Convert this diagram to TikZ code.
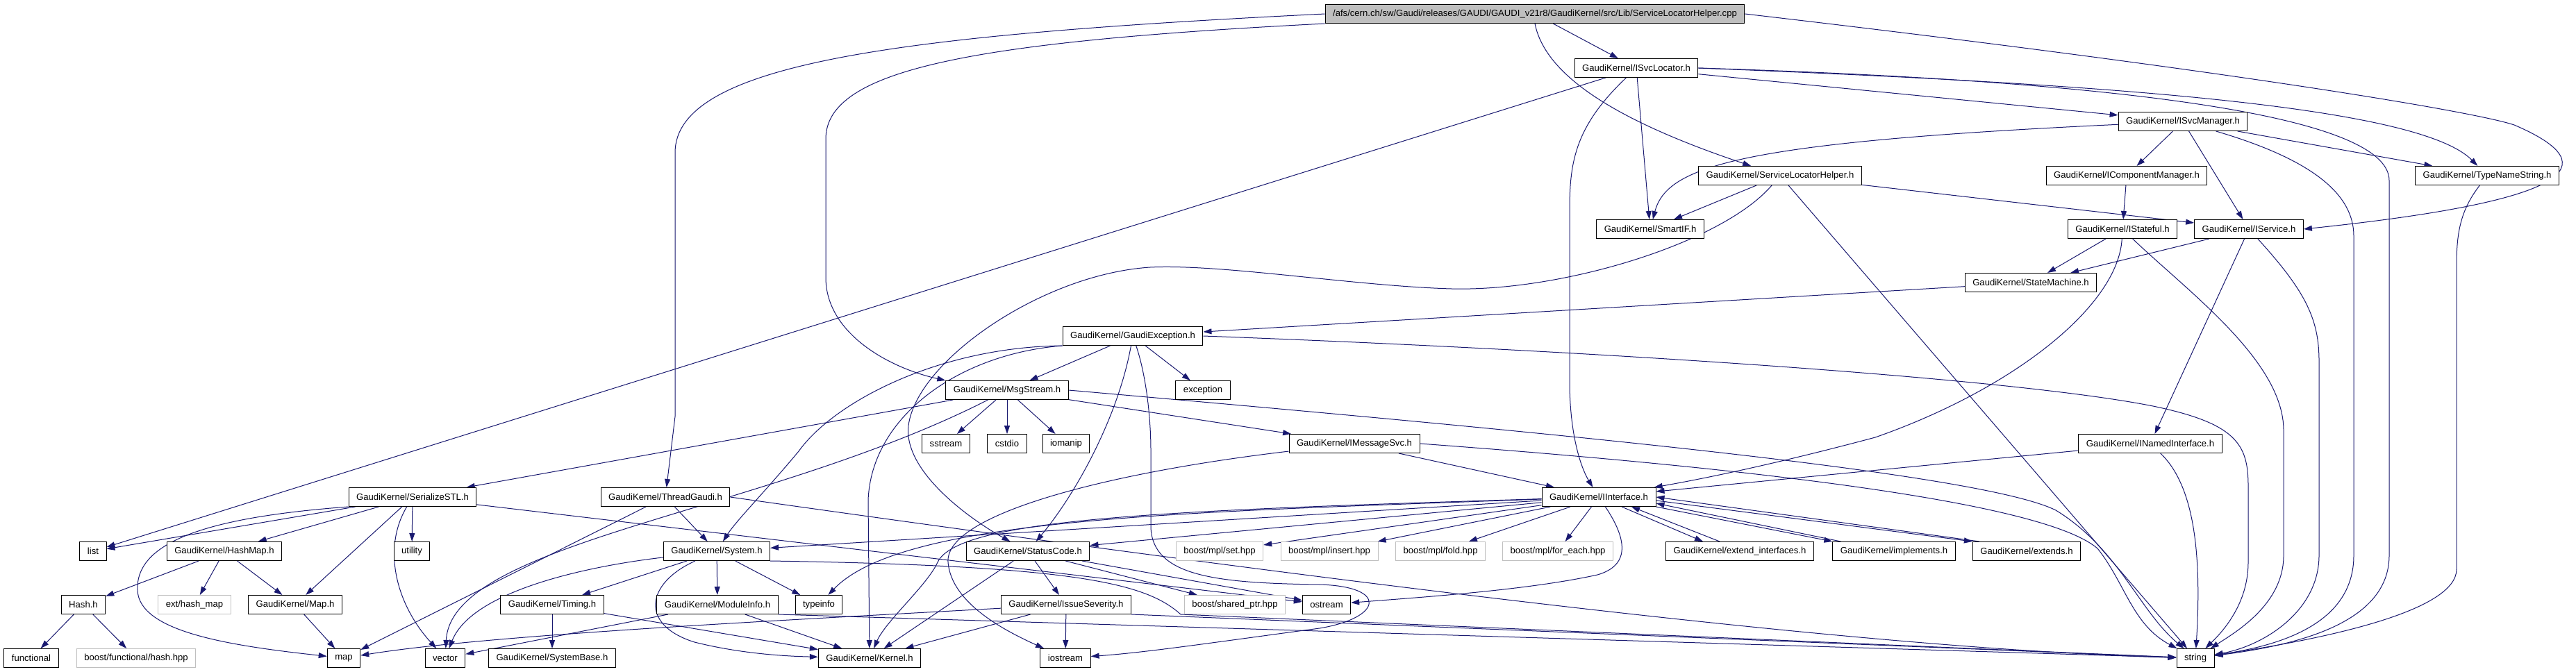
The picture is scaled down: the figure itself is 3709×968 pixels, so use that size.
\documentclass[tikz,border=0pt]{standalone}
\usepackage{fontspec}
\setmainfont{Liberation Sans}
\usepackage{tikz}
\usetikzlibrary{arrows.meta, backgrounds}
\definecolor{edgeblue}{RGB}{25, 25, 112}
\definecolor{extgray}{RGB}{191, 191, 191}

\begin{document}
\begin{tikzpicture}[
    x=1pt, y=-1pt,
    hdr/.style  = {rectangle, draw=black, line width=1pt, fill=white,
                   inner xsep=11pt, inner ysep=0pt, minimum height=27pt,
                   font=\fontsize{13.1}{15}\selectfont},
    ext/.style  = {hdr, draw=extgray},
    src/.style  = {hdr, fill=extgray},
    dep/.style  = {-{Triangle[length=12pt, width=8pt]}, line width=1pt, color=edgeblue},
  ]
  \useasboundingbox (0,0) rectangle (3709,968);

  %% Source file and headers, row by row
  \node[src] (root)       at (2210,20)  {/afs/cern.ch/sw/Gaudi/releases/GAUDI/GAUDI\_v21r8/GaudiKernel/src/Lib/ServiceLocatorHelper.cpp};
  \node[hdr] (isvcloc)    at (2356,98)  {GaudiKernel/ISvcLocator.h};
  \node[hdr] (isvcman)    at (3143,175) {GaudiKernel/ISvcManager.h};
  \node[hdr] (slh)        at (2563,253) {GaudiKernel/ServiceLocatorHelper.h};
  \node[hdr] (icompman)   at (3062,253) {GaudiKernel/IComponentManager.h};
  \node[hdr] (typename)   at (3581,253) {GaudiKernel/TypeNameString.h};
  \node[hdr] (smartif)    at (2376,330) {GaudiKernel/SmartIF.h};
  \node[hdr] (istateful)  at (3056,330) {GaudiKernel/IStateful.h};
  \node[hdr] (iservice)   at (3238,330) {GaudiKernel/IService.h};
  \node[hdr] (statemach)  at (2924,407) {GaudiKernel/StateMachine.h};
  \node[hdr] (gexc)       at (1631,484) {GaudiKernel/GaudiException.h};
  \node[hdr] (msgstream)  at (1450,562) {GaudiKernel/MsgStream.h};
  \node[hdr] (exception)  at (1732,562) {exception};
  \node[hdr] (sstream)    at (1362,639) {sstream};
  \node[hdr] (cstdio)     at (1450,639) {cstdio};
  \node[hdr] (iomanip)    at (1535,639) {iomanip};
  \node[hdr] (imsgsvc)    at (1950,639) {GaudiKernel/IMessageSvc.h};
  \node[hdr] (inamed)     at (3096,639) {GaudiKernel/INamedInterface.h};
  \node[hdr] (serialize)  at (594,716)  {GaudiKernel/SerializeSTL.h};
  \node[hdr] (threadg)    at (958,716)  {GaudiKernel/ThreadGaudi.h};
  \node[hdr] (iinterface) at (2302,716) {GaudiKernel/IInterface.h};

  \node[hdr] (list)       at (134,794)  {list};
  \node[hdr] (hashmap)    at (323,794)  {GaudiKernel/HashMap.h};
  \node[hdr] (utility)    at (593,794)  {utility};
  \node[hdr] (system)     at (1032,794) {GaudiKernel/System.h};
  \node[hdr] (statuscode) at (1480,794) {GaudiKernel/StatusCode.h};
  \node[ext] (mplset)     at (1756,794) {boost/mpl/set.hpp};
  \node[ext] (mplinsert)  at (1914,794) {boost/mpl/insert.hpp};
  \node[ext] (mplfold)    at (2074,794) {boost/mpl/fold.hpp};
  \node[ext] (mplforeach) at (2243,794) {boost/mpl/for\_each.hpp};
  \node[hdr] (extendif)   at (2505,794) {GaudiKernel/extend\_interfaces.h};
  \node[hdr] (implements) at (2727,794) {GaudiKernel/implements.h};
  \node[hdr] (extends)    at (2918,794) {GaudiKernel/extends.h};

  \node[hdr] (hash)       at (120,871)  {Hash.h};
  \node[ext] (exthashmap) at (280,871)  {ext/hash\_map};
  \node[hdr] (mapH)       at (425,871)  {GaudiKernel/Map.h};
  \node[hdr] (timing)     at (795,871)  {GaudiKernel/Timing.h};
  \node[hdr] (moduleinfo) at (1033,871) {GaudiKernel/ModuleInfo.h};
  \node[hdr] (typeinfo)   at (1179,871) {typeinfo};
  \node[hdr] (issuesev)   at (1535,871) {GaudiKernel/IssueSeverity.h};
  \node[ext] (sharedptr)  at (1778,871) {boost/shared\_ptr.hpp};
  \node[hdr] (ostream)    at (1910,871) {ostream};

  \node[hdr] (functional) at (45,948)   {functional};
  \node[ext] (boosthash)  at (196,948)  {boost/functional/hash.hpp};
  \node[hdr] (map)        at (495,948)  {map};
  \node[hdr] (vector)     at (641,948)  {vector};
  \node[hdr] (systembase) at (795,948)  {GaudiKernel/SystemBase.h};
  \node[hdr] (kernel)     at (1252,948) {GaudiKernel/Kernel.h};
  \node[hdr] (iostream)   at (1534,948) {iostream};
  \node[hdr] (string)     at (3161,948) {string};

  \begin{scope}[on background layer]
  \fill[white] (0,0) rectangle (3709,968);

  %% From the source file
  \draw[dep] (root) -- (isvcloc);
  \draw[dep] (root.south) .. controls (2225,110) and (2330,175) .. (slh);
  \draw[dep] (root.west) .. controls (1300,50) and (972,90) .. (972,220) -- (972,600) -- (threadg);
  \draw[dep] (root.south west) .. controls (1400,60) and (1189,100) .. (1189,200) -- (1189,400)
             .. controls (1189,480) and (1280,530) .. (msgstream.north west);
  \draw[dep] (root.east) .. controls (3200,100) and (3560,160) .. (3620,180)
             .. controls (3760,240) and (3700,290) .. (iservice.east);

  %% ISvcLocator / ISvcManager
  \draw[dep] (isvcloc) -- (isvcman);
  \draw[dep] (isvcloc.east) .. controls (3000,120) and (3480,150) .. (typename);
  \draw[dep] (isvcloc.east) .. controls (3000,115) and (3440,160) .. (3440,260) -- (3440,800)
             .. controls (3440,900) and (3300,930) .. (string);
  \draw[dep] (isvcloc) -- (smartif);
  \draw[dep] (isvcloc) .. controls (2270,180) and (2260,230) .. (2260,300) -- (2260,560)
             .. controls (2262,640) and (2280,680) .. (iinterface);
  \draw[dep] (isvcloc) -- (list);
  \draw[dep] (isvcman) -- (icompman);
  \draw[dep] (isvcman) -- (iservice);
  \draw[dep] (isvcman) -- (typename);
  \draw[dep] (isvcman) .. controls (2500,205) and (2400,240) .. (smartif);
  \draw[dep] (isvcman) .. controls (3330,230) and (3389,280) .. (3389,340) -- (3389,800)
             .. controls (3389,900) and (3280,930) .. (string);

  %% ServiceLocatorHelper.h
  \draw[dep] (slh) -- (smartif);
  \draw[dep] (slh) -- (iservice);
  \draw[dep] (slh) -- (string);
  \draw[dep] (slh) .. controls (2480,350) and (2250,420) .. (2090,416)
             .. controls (1950,412) and (1760,380) .. (1656,385)
             .. controls (1500,395) and (1320,520) .. (1308,613)
             .. controls (1300,680) and (1400,750) .. (statuscode);

  %% Service interfaces
  \draw[dep] (icompman) -- (istateful);
  \draw[dep] (istateful) -- (statemach);
  \draw[dep] (istateful) .. controls (3050,440) and (2900,560) .. (2700,630)
             .. controls (2550,670) and (2450,690) .. (iinterface);
  \draw[dep] (istateful) .. controls (3150,420) and (3288,520) .. (3288,620) -- (3288,800)
             .. controls (3288,870) and (3220,910) .. (string);
  \draw[dep] (iservice) -- (statemach);
  \draw[dep] (iservice) -- (inamed);
  \draw[dep] (iservice) .. controls (3320,420) and (3339,460) .. (3339,520) -- (3339,800)
             .. controls (3339,880) and (3260,930) .. (string);
  \draw[dep] (typename) .. controls (3545,300) and (3537,330) .. (3537,380) -- (3537,820)
             .. controls (3537,880) and (3350,920) .. (string);
  \draw[dep] (statemach) -- (gexc);
  \draw[dep] (inamed) -- (iinterface);
  \draw[dep] (inamed) .. controls (3160,700) and (3170,800) .. (string);

  %% GaudiException.h
  \draw[dep] (gexc) -- (msgstream);
  \draw[dep] (gexc) -- (exception);
  \draw[dep] (gexc) .. controls (1610,600) and (1550,710) .. (statuscode);
  \draw[dep] (gexc.south west) .. controls (1350,500) and (1200,580) .. (1150,650)
             .. controls (1100,710) and (1060,750) .. (system);
  \draw[dep] (gexc.south west) .. controls (1380,510) and (1255,600) .. (1250,720) -- (kernel);
  \draw[dep] (gexc) .. controls (1650,540) and (1657,600) .. (1657,650) -- (1657,760)
             .. controls (1660,830) and (1750,840) .. (1900,842)
             .. controls (2000,845) and (1990,890) .. (1900,905)
             .. controls (1750,925) and (1650,940) .. (iostream);
  \draw[dep] (gexc.east) .. controls (2300,505) and (2900,545) .. (3100,585)
             .. controls (3220,610) and (3237,640) .. (3237,700) -- (3237,810)
             .. controls (3237,870) and (3200,910) .. (string);

  %% MsgStream.h / IMessageSvc.h
  \draw[dep] (msgstream) -- (sstream);
  \draw[dep] (msgstream) -- (cstdio);
  \draw[dep] (msgstream) -- (iomanip);
  \draw[dep] (msgstream) -- (imsgsvc);
  \draw[dep] (msgstream) -- (serialize);
  \draw[dep] (msgstream) .. controls (1100,740) and (650,780) .. (vector);
  \draw[dep] (msgstream.east) .. controls (2200,620) and (2850,680) .. (2960,735)
             .. controls (3050,790) and (3080,880) .. (string);
  \draw[dep] (imsgsvc) -- (iinterface);
  \draw[dep] (imsgsvc.east) .. controls (2600,680) and (2950,730) .. (3020,790)
             .. controls (3060,840) and (3070,900) .. (string);
  \draw[dep] (imsgsvc) .. controls (1600,680) and (1360,740) .. (1365,810)
             .. controls (1370,870) and (1450,910) .. (iostream);

  %% SerializeSTL.h and its containers
  \draw[dep] (serialize) -- (list);
  \draw[dep] (serialize.south west) .. controls (300,745) and (195,780) .. (198,850)
             .. controls (200,910) and (330,930) .. (map);
  \draw[dep] (serialize) -- (hashmap);
  \draw[dep] (serialize) -- (mapH);
  \draw[dep] (serialize) -- (utility);
  \draw[dep] (serialize) .. controls (550,790) and (570,870) .. (vector);
  \draw[dep] (serialize) -- (ostream);
  \draw[dep] (hashmap) -- (hash);
  \draw[dep] (hashmap) -- (exthashmap);
  \draw[dep] (hashmap) -- (mapH);
  \draw[dep] (hash) -- (functional);
  \draw[dep] (hash) -- (boosthash);
  \draw[dep] (mapH) -- (map);

  %% ThreadGaudi.h / System.h
  \draw[dep] (threadg) -- (system);
  \draw[dep] (threadg) -- (map);
  \draw[dep] (threadg.east) .. controls (2000,850) and (2700,935) .. (string);
  \draw[dep] (system) -- (timing);
  \draw[dep] (system) -- (moduleinfo);
  \draw[dep] (system) -- (typeinfo);
  \draw[dep] (system) .. controls (850,815) and (680,850) .. (vector);
  \draw[dep] (system) .. controls (930,840) and (920,900) .. (1000,925)
             .. controls (1060,940) and (1120,945) .. (kernel);
  \draw[dep] (system.south east) .. controls (1550,815) and (1650,840) .. (1700,885) -- (string);
  \draw[dep] (moduleinfo) -- (kernel);
  \draw[dep] (moduleinfo) -- (vector);
  \draw[dep] (moduleinfo.south east) -- (string);
  \draw[dep] (timing) -- (systembase);
  \draw[dep] (timing) -- (kernel);

  %% StatusCode.h / IssueSeverity.h
  \draw[dep] (statuscode) -- (issuesev);
  \draw[dep] (statuscode) -- (kernel);
  \draw[dep] (statuscode) -- (sharedptr);
  \draw[dep] (statuscode) -- (ostream);
  \draw[dep] (issuesev) -- (iostream);
  \draw[dep] (issuesev) -- (kernel);
  \draw[dep] (issuesev) .. controls (1100,895) and (700,915) .. (map);
  \draw[dep] (issuesev.south east) -- (string);

  %% IInterface.h
  \draw[dep] (iinterface) -- (system);
  \draw[dep] (iinterface) .. controls (1700,735) and (1380,745) .. (1350,810)
             .. controls (1335,843) and (1275,895) .. (kernel);
  \draw[dep] (iinterface) .. controls (1700,738) and (1300,745) .. (typeinfo);
  \draw[dep] (iinterface) -- (statuscode);
  \draw[dep] (iinterface) -- (mplset);
  \draw[dep] (iinterface) -- (mplinsert);
  \draw[dep] (iinterface) -- (mplfold);
  \draw[dep] (iinterface) -- (mplforeach);
  \draw[dep] (iinterface) .. controls (2345,780) and (2345,815) .. (2300,828)
             .. controls (2200,850) and (2050,860) .. (ostream);
  \draw[dep] ([xshift=33pt]iinterface.south) -- ([xshift=-53pt]extendif.north);
  \draw[dep] ([xshift=-29pt]extendif.north) -- ([xshift=47pt]iinterface.south);
  \draw[dep] (iinterface.south east) -- (implements.north west);
  \draw[dep] ([xshift=12pt]implements.north west) -- ([yshift=5pt]iinterface.south east);
  \draw[dep] ([yshift=9pt]iinterface.south east) -- (extends.north west);
  \draw[dep] ([xshift=10pt]extends.north west) -- ([yshift=14pt]iinterface.south east);
  \end{scope}

\end{tikzpicture}
\end{document}
